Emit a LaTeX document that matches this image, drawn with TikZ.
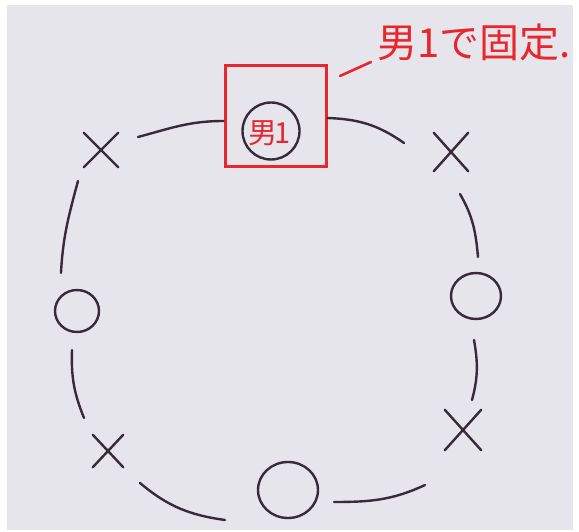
\documentclass[tikz,border=0pt]{standalone}
\usepackage{fontspec}
\newfontfamily\jpfont{Noto Sans CJK JP}
\usetikzlibrary{shapes.misc,shapes.geometric}
\definecolor{bg}{RGB}{229,229,235}
\definecolor{ink}{RGB}{55,42,58}
\definecolor{pen}{RGB}{232,38,44}
\begin{document}
\begin{tikzpicture}[x=1pt,y=1pt,
  inkline/.style={draw=ink, line width=2.4pt, line cap=round},
  xmark/.style={cross out, draw=ink, line width=2.4pt, inner sep=0pt, line cap=round},
  omark/.style={ellipse, draw=ink, line width=2.4pt, inner sep=0pt},
  redbox/.style={rectangle, draw=pen, line width=3pt, minimum size=101pt, inner sep=0pt},
  redline/.style={draw=pen, line width=2.6pt, line cap=round}]
\fill[white] (0,0) rectangle (579,-532);
\fill[bg] (7,-5) rectangle (573,-530);
\useasboundingbox (0,0) rectangle (579,-532);

% fixed seat
\node[redbox] (box) at (275.5,-116.5) {};
\node[omark, minimum size=57pt] (ring) at (271,-131) {};
\node[text=pen, inner sep=0pt, font=\jpfont\fontsize{29}{29}\selectfont] (ringtext) at (270,-133) {男\hspace{-3pt}1};
\node[text=pen, font=\jpfont\fontsize{40}{40}\selectfont] (lbl) at (474,-42) {男1で固定.};
\coordinate (l1) at (340,-76);
\coordinate (l2) at (371,-62);
\draw[redline] (l1) -- (l2);

% marks
\node[xmark, minimum width=32pt, minimum height=32pt] (xtl) at (101,-150) {};
\node[xmark, minimum width=32pt, minimum height=36pt] (xtr) at (451,-152) {};
\node[xmark, minimum width=28pt, minimum height=30pt] (xbl) at (108,-451) {};
\node[xmark, minimum width=34pt, minimum height=38pt] (xbr) at (463,-430) {};
\node[omark, minimum width=44pt, minimum height=42pt] (ol) at (77,-311) {};
\node[omark, minimum width=50pt, minimum height=46pt] (or) at (476,-296) {};
\node[omark, minimum width=60pt, minimum height=56pt] (ob) at (288,-490) {};

% arc end points
\coordinate (a1s) at (138,-137);
\coordinate (a2e) at (404,-143);
\coordinate (a3s) at (460,-194);
\coordinate (a3e) at (478,-257);
\coordinate (a4s) at (474,-340);
\coordinate (a4e) at (472,-400);
\coordinate (a5s) at (334,-502);
\coordinate (a5e) at (425,-485);
\coordinate (a6s) at (140,-483);
\coordinate (a6e) at (225,-520);
\coordinate (a7s) at (72,-350);
\coordinate (a7e) at (84,-418);
\coordinate (a8s) at (78,-181);
\coordinate (a8e) at (61,-273);

\draw[inkline] (a1s) to[out=15,in=180] ([yshift=-4.5pt]box.west);
\draw[inkline] ([yshift=-1.5pt]box.east) to[out=-2,in=145] (a2e);
\draw[inkline] (a3s) to[out=-60,in=95] (a3e);
\draw[inkline] (a4s) to[out=-80,in=75] (a4e);
\draw[inkline] (a5s) to[out=0,in=205] (a5e);
\draw[inkline] (a6s) to[out=-40,in=172] (a6e);
\draw[inkline] (a7s) to[out=-92,in=112] (a7e);
\draw[inkline] (a8s) to[out=-105,in=87] (a8e);
\end{tikzpicture}
\end{document}
